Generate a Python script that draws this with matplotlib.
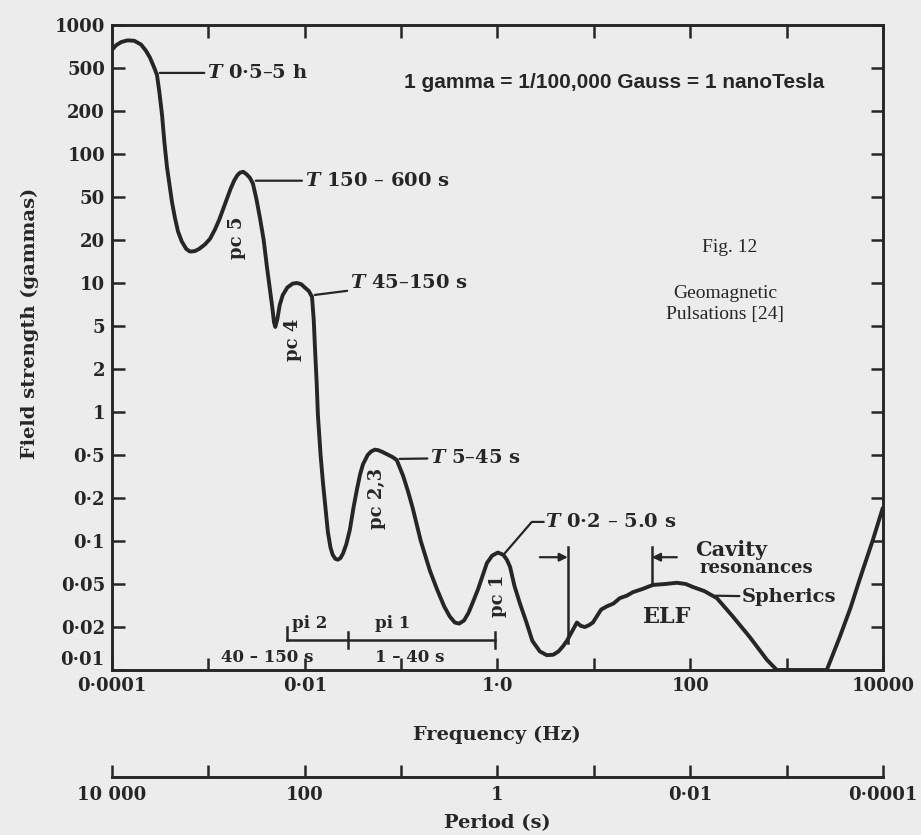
import numpy as np
import matplotlib
matplotlib.use('Agg')
from matplotlib import pyplot as plt
from matplotlib.ticker import NullLocator

# curve: frequency (Hz) -> field strength (gammas)
freq = [1.0e-4, 1.1e-4, 1.25e-4, 1.45e-4, 1.7e-4, 2.0e-4, 2.25e-4, 2.48e-4, 2.75e-4, 2.93e-4,
        3.1e-4, 3.3e-4, 3.5e-4, 3.72e-4, 4.19e-4, 4.5e-4, 4.84e-4, 5.3e-4, 5.9e-4, 6.44e-4,
        7.2e-4, 8.0e-4, 9.2e-4, 1.04e-3, 1.17e-3, 1.3e-3, 1.43e-3, 1.56e-3, 1.7e-3, 1.85e-3,
        2.0e-3, 2.13e-3, 2.3e-3, 2.5e-3, 2.7e-3, 2.9e-3, 3.15e-3, 3.43e-3, 3.75e-3, 4.05e-3,
        4.35e-3, 4.6e-3, 4.8e-3, 4.95e-3, 5.2e-3, 5.5e-3, 5.9e-3, 6.6e-3, 7.5e-3, 8.3e-3,
        9.2e-3, 1.0e-2, 1.1e-2, 1.19e-2, 1.24e-2, 1.28e-2, 1.33e-2, 1.37e-2, 1.46e-2, 1.55e-2,
        1.64e-2, 1.74e-2, 1.85e-2, 1.95e-2, 2.08e-2, 2.21e-2, 2.35e-2, 2.5e-2, 2.7e-2, 2.94e-2,
        3.2e-2, 3.48e-2, 3.75e-2, 4.02e-2, 4.5e-2, 4.9e-2, 5.35e-2, 5.8e-2, 6.4e-2, 7.2e-2,
        8.1e-2, 9.0e-2, 0.105, 0.118, 0.132, 0.16, 0.199, 0.235, 0.28, 0.32,
        0.361, 0.4, 0.45, 0.5, 0.556, 0.63, 0.7, 0.776, 0.88, 1.01,
        1.15, 1.25, 1.35, 1.5, 1.71, 2.0, 2.3, 2.75, 3.25, 3.8,
        4.3, 4.8, 5.25, 5.9, 6.67, 7.3, 8.07, 8.9, 9.77, 11.9,
        13.6, 16.0, 18.6, 22.0, 25.4, 32.0, 40.9, 55.0, 72.6, 90.0,
        106, 140, 189, 277, 415, 624, 791, 2610, 3560, 4600,
        5740, 7830, 9950]
gamma = [670, 720, 760, 780, 775, 730, 660, 590, 500, 430,
         300, 190, 120, 81, 45, 32, 24, 19.5, 17.3, 16.6,
         16.7, 17.3, 18.6, 20.5, 25, 31, 39, 48, 57, 65,
         71, 74, 75, 72, 68, 62, 48, 32, 20, 13,
         9, 6.8, 5.3, 4.9, 5.6, 7.0, 8.2, 9.3, 9.9, 10,
         9.8, 9.3, 8.8, 8.0, 5.5, 3.0, 1.6, 0.95, 0.5, 0.27,
         0.17, 0.115, 0.09, 0.08, 0.075, 0.074, 0.076, 0.082, 0.095, 0.12,
         0.17, 0.24, 0.33, 0.41, 0.5, 0.53, 0.545, 0.54, 0.525, 0.505,
         0.48, 0.45, 0.32, 0.23, 0.17, 0.1, 0.062, 0.045, 0.031, 0.025,
         0.022, 0.0215, 0.023, 0.027, 0.034, 0.045, 0.057, 0.07, 0.079, 0.083,
         0.08, 0.074, 0.066, 0.048, 0.033, 0.022, 0.016, 0.0135, 0.0127, 0.0128,
         0.0135, 0.0147, 0.016, 0.0185, 0.022, 0.0205, 0.020, 0.0208, 0.022, 0.029,
         0.031, 0.033, 0.037, 0.039, 0.042, 0.045, 0.049, 0.050, 0.051, 0.050,
         0.047, 0.043, 0.037, 0.025, 0.017, 0.0118, 0.01, 0.01, 0.017, 0.03,
         0.054, 0.101, 0.17]

y_ticks = [0.01, 0.02, 0.05, 0.1, 0.2, 0.5, 1, 2, 5, 10, 20, 50, 100, 200, 500, 1000]
y_labels = ['0·01', '0·02', '0·05', '0·1', '0·2', '0·5', '1', '2', '5', '10',
            '20', '50', '100', '200', '500', '1000']
freq_ticks = [1e-4, 1e-3, 1e-2, 1e-1, 1, 10, 100, 1000, 1e4]
freq_labels = ['0·0001', '', '0·01', '', '1·0', '', '100', '', '10000']
period_ticks = [1e4, 1e3, 100, 10, 1, 0.1, 0.01, 1e-3, 1e-4]
period_labels = ['10 000', '', '100', '', '1', '', '0·01', '', '0·0001']

INK = '#262626'
PAPER = '#ececec'
plt.rcParams['font.family'] = ['DejaVu Serif']
plt.rcParams['font.weight'] = 'bold'
plt.rcParams['mathtext.fontset'] = 'dejavuserif'
plt.rcParams['text.color'] = INK

# the printed y axis puts 1-2-5 steps at equal spacing
_lt = np.concatenate([[-8], np.log10(y_ticks), [8]])
_pos = np.concatenate([[-6 / 0.301], np.arange(len(y_ticks)), [15 + 5 / 0.301]])


def fwd(v):
    v = np.clip(np.asarray(v, float), 1e-12, None)
    return np.interp(np.log10(v), _lt, _pos)


def inv(p):
    return 10 ** np.interp(np.asarray(p, float), _pos, _lt)


def recip(x):
    x = np.asarray(x, float)
    with np.errstate(divide='ignore'):
        return 1.0 / x


fig = plt.figure(figsize=(9.21, 8.35), dpi=100, facecolor=PAPER)
ax = fig.add_axes([0.1216, 0.1976, 0.8371, 0.7725])
ax.set_facecolor('none')
ax.set_xscale('log')
ax.set_yscale('function', functions=(fwd, inv))
ax.set_xlim(1e-4, 1e4)
ax.set_ylim(0.01, 1000)

ax.plot(freq, gamma, color=INK, lw=2.8, solid_joinstyle='round', solid_capstyle='round')

ax.set_xticks(freq_ticks, labels=freq_labels)
# bottom label sits a little higher in the print, drawn by hand below
ax.set_yticks(y_ticks, labels=[''] + y_labels[1:])
ax.xaxis.set_minor_locator(NullLocator())
ax.yaxis.set_minor_locator(NullLocator())
ax.tick_params(which='major', direction='in', length=9, width=1.8, color=INK,
               top=True, right=True, labelsize=13, labelcolor=INK)
ax.tick_params(axis='x', pad=5)
ax.tick_params(axis='y', pad=5)
for s in ax.spines.values():
    s.set_linewidth(2.1)
    s.set_color(INK)
fig.text(104 / 921, 1 - 660 / 835, y_labels[0], ha='right', va='center', fontsize=13)

# period axis underneath
sec = ax.secondary_xaxis(-0.1654, functions=(recip, recip))
sec.set_xticks(period_ticks, labels=period_labels)
sec.xaxis.set_minor_locator(NullLocator())
sec.tick_params(direction='in', length=9, width=1.8, color=INK, pad=7,
                labelsize=13, labelcolor=INK)
sec.spines['bottom'].set_linewidth(2.1)
sec.spines['bottom'].set_color(INK)

fig.text(497 / 921, 1 - 735 / 835, 'Frequency (Hz)', ha='center', va='center', fontsize=14)
fig.text(497 / 921, 1 - 823 / 835, 'Period (s)', ha='center', va='center', fontsize=14)
fig.text(30 / 921, 1 - 323 / 835, 'Field strength (gammas)', rotation=90,
         ha='center', va='center', fontsize=14)

# period annotations with leaders
lead = dict(arrowstyle='-', color=INK, lw=1.6, shrinkA=0, shrinkB=2)
ax.annotate(r'$\mathbfit{T}$ 0·5–5 h', xy=(2.93e-4, 450), xytext=(9.7e-4, 450),
            fontsize=14, va='center', ha='left', arrowprops=lead)
ax.annotate(r'$\mathbfit{T}$ 150 – 600 s', xy=(2.9e-3, 65), xytext=(1.0e-2, 65),
            fontsize=14, va='center', ha='left', arrowprops=lead)
ax.annotate(r'$\mathbfit{T}$ 45–150 s', xy=(1.19e-2, 8.2), xytext=(2.94e-2, 10),
            fontsize=14, va='center', ha='left', arrowprops=lead)
ax.annotate(r'$\mathbfit{T}$ 5–45 s', xy=(0.0903, 0.46), xytext=(0.2, 0.47),
            fontsize=14, va='center', ha='left', arrowprops=lead)
ax.plot([1.19, 2.27, 3.0], [0.082, 0.136, 0.136], color=INK, lw=1.6)
ax.text(3.1, 0.136, r'$\mathbfit{T}$ 0·2 – 5.0 s', fontsize=14, va='center', ha='left')

# cavity resonance brackets
ax.plot([5.37, 5.37], [0.091, 0.0155], color=INK, lw=1.8)
ax.plot([40, 40], [0.091, 0.049], color=INK, lw=1.8)
arr = dict(arrowstyle='-|>', color=INK, lw=1.6, mutation_scale=12, shrinkA=0, shrinkB=0)
ax.annotate('', xy=(5.37, 0.077), xytext=(2.75, 0.077), arrowprops=arr)
ax.annotate('', xy=(40, 0.077), xytext=(72.6, 0.077), arrowprops=arr)
ax.text(112, 0.086, 'Cavity', fontsize=15, va='center', ha='left')
ax.text(126, 0.065, 'resonances', fontsize=13, va='center', ha='left')
ax.annotate('Spherics', xy=(171, 0.039), xytext=(346, 0.038), fontsize=14,
            va='center', ha='left', arrowprops=lead)
ax.text(57, 0.0247, 'ELF', fontsize=16, va='center', ha='center')

# pc bands
for f, g, t in [(1.98e-3, 21, 'pc 5'), (7.55e-3, 3.7, 'pc 4'),
                (0.0561, 0.2, 'pc 2,3'), (1.01, 0.039, 'pc 1')]:
    ax.text(f, g, t, rotation=90, fontsize=13, ha='center', va='center')

# pi bands
ax.plot([6.5e-3, 0.94], [0.0162, 0.0162], color=INK, lw=1.8)
ax.plot([6.5e-3, 6.5e-3], [0.0162, 0.02], color=INK, lw=1.8)
ax.plot([0.028, 0.028], [0.0143, 0.0184], color=INK, lw=1.8)
ax.plot([0.94, 0.94], [0.0143, 0.0184], color=INK, lw=1.8)
ax.text(0.0113, 0.0215, 'pi 2', fontsize=12, ha='center', va='center')
ax.text(0.082, 0.0215, 'pi 1', fontsize=12, ha='center', va='center')
ax.text(4.05e-3, 0.0123, '40 – 150 s', fontsize=12, ha='center', va='center')
ax.text(0.123, 0.0123, '1 – 40 s', fontsize=12, ha='center', va='center')

fig.text(614 / 921, 1 - 83 / 835, '1 gamma = 1/100,000 Gauss = 1 nanoTesla',
         family='Liberation Sans', weight='bold', fontsize=15, ha='center', va='center')
fig.text(730 / 921, 1 - 247 / 835, 'Fig. 12', family='Liberation Serif',
         weight='normal', fontsize=14, ha='center', va='center')
fig.text(725 / 921, 1 - 293 / 835, 'Geomagnetic', family='Liberation Serif',
         weight='normal', fontsize=14, ha='center', va='center')
fig.text(725 / 921, 1 - 315 / 835, 'Pulsations [24]', family='Liberation Serif',
         weight='normal', fontsize=14, ha='center', va='center')

fig.savefig('out.png', dpi=100, facecolor=PAPER)
